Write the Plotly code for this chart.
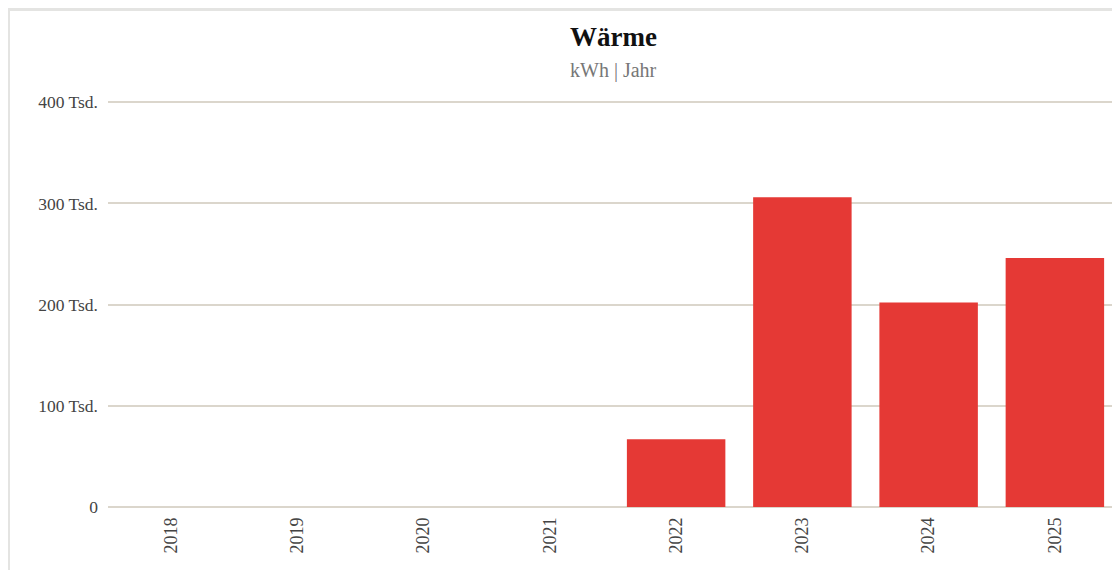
import plotly.graph_objects as go

years = ["2018", "2019", "2020", "2021", "2022", "2023", "2024", "2025"]
heat_kwh = [0, 0, 0, 0, 67000, 306000, 202000, 246000]
y_ticks = [0, 100000, 200000, 300000, 400000]
y_labels = ["0", "100 Tsd.", "200 Tsd.", "300 Tsd.", "400 Tsd."]

serif = "Liberation Serif, Times New Roman, serif"

fig = go.Figure()
fig.add_trace(
    go.Bar(
        x=years,
        y=heat_kwh,
        marker=dict(color="#e53935", line=dict(width=0)),
        hoverinfo="x+y",
    )
)

fig.update_layout(
    width=1112,
    height=562,
    margin=dict(l=100, r=2, t=93, b=63),
    paper_bgcolor="white",
    plot_bgcolor="white",
    bargap=0.22,
    showlegend=False,
    font=dict(family=serif, color="#444444"),
    # title + subtitle as annotations centred over the plot area
    annotations=[
        dict(
            text="<b>Wärme</b>",
            xref="paper", yref="paper",
            x=0.5, y=1.1576,
            xanchor="center", yanchor="middle",
            showarrow=False,
            font=dict(family=serif, size=27, color="#111111"),
        ),
        dict(
            text="kWh | Jahr",
            xref="paper", yref="paper",
            x=0.5, y=1.0739,
            xanchor="center", yanchor="middle",
            showarrow=False,
            font=dict(family=serif, size=20, color="#777777"),
        ),
    ],
    # light frame around the card
    shapes=[
        dict(
            type="rect",
            xref="paper",
            yref="paper",
            x0=-0.0985,
            x1=1.2,
            y0=-0.5,
            y1=1.2254,
            line=dict(color="#e4e4e2", width=3),
            layer="below",
        )
    ],
)

fig.update_xaxes(
    type="category",
    tickangle=-90,
    tickfont=dict(size=18, family=serif, color="#444444"),
    showgrid=False,
    showline=False,
    ticks="",
    ticklabelstandoff=6,
)
fig.update_yaxes(
    range=[0, 401200],
    tickvals=y_ticks,
    ticktext=y_labels,
    tickfont=dict(size=17.5, family=serif, color="#444444"),
    showgrid=True,
    gridcolor="#dbd6cc",
    gridwidth=1.5,
    zeroline=True,
    zerolinecolor="#dbd6cc",
    zerolinewidth=1.5,
    showline=False,
    ticks="",
    ticklabelstandoff=9,
)

fig.write_html("out.html")
